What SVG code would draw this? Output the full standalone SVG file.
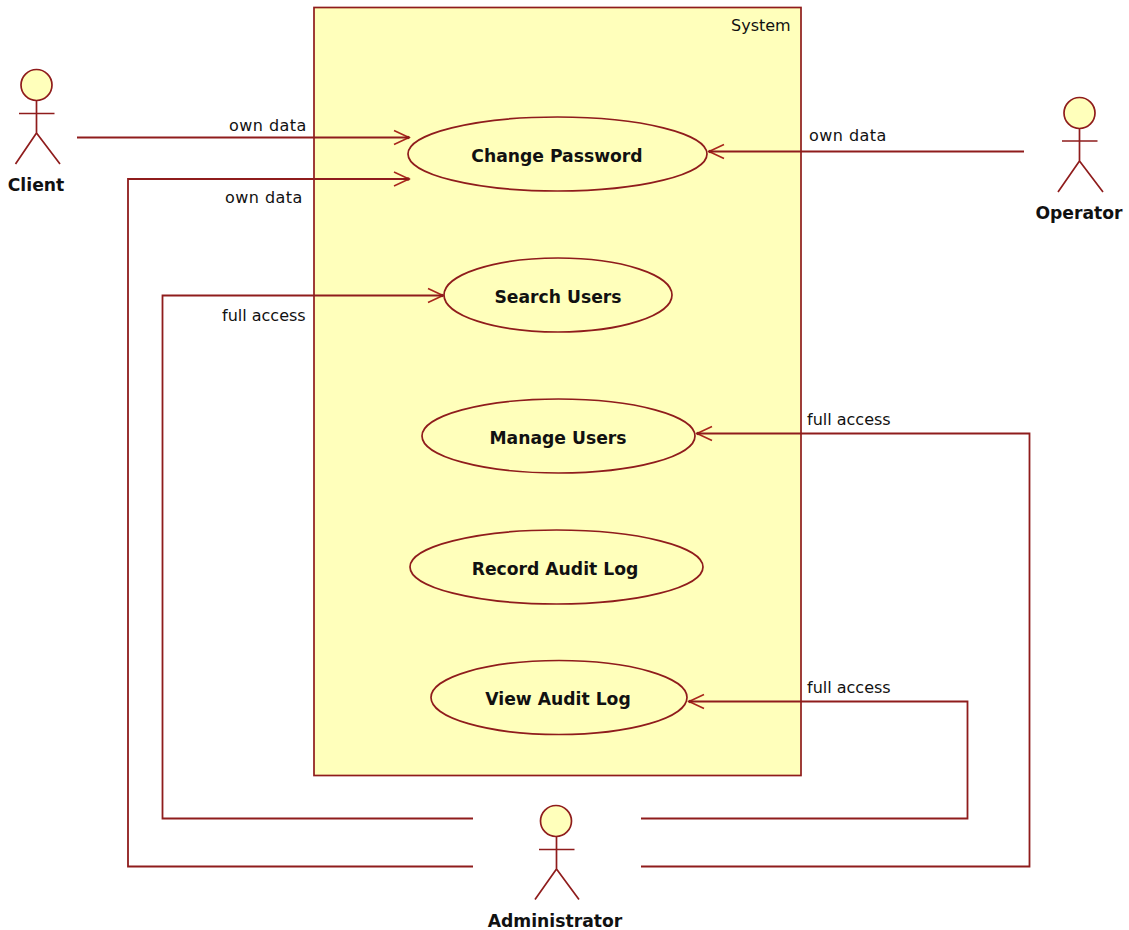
<svg xmlns="http://www.w3.org/2000/svg" width="1129" height="930" viewBox="0 0 1129 930">
<defs>
<marker id="open" markerUnits="userSpaceOnUse" markerWidth="20" markerHeight="20" refX="16" refY="10" orient="auto"><path d="M1 3L16 10L1 17" fill="none" stroke="#990000" stroke-opacity=".85" stroke-width="1.6"/><circle cx="15" cy="10" r="1.8" fill="#8f1c1c"/></marker>
</defs>
<style>
text{font-family:"DejaVu Sans","Liberation Sans",sans-serif;fill:#111}
.l{font-size:16px}
.o{letter-spacing:.45px}
.n{font-size:17.2px;font-weight:bold;text-anchor:middle}
.e{fill:#ffffbb;stroke:#8f1c1c;stroke-width:1.7}
.s{fill:none;stroke:#8f1c1c;stroke-width:1.7}
.c{fill:none;stroke:#8f1c1c;stroke-width:1.8}
</style>
<g id="system"><rect x="314" y="7.500" width="487" height="768" class="e"/><text class="l" x="731" y="31">System</text></g>
<g id="connectors">
<path class="c" marker-end="url(#open)" d="M77 137.500H409"/>
<path class="c" marker-end="url(#open)" d="M473 866.500H128V179H409"/>
<path class="c" marker-end="url(#open)" d="M473 818.500H162.500V295.500H443"/>
<path class="c" marker-end="url(#open)" d="M1024 151.500H709"/>
<path class="c" marker-end="url(#open)" d="M641 866.500H1029.500V433.500H697"/>
<path class="c" marker-end="url(#open)" d="M641 818.500H967.500V701.500H689"/>
</g>
<g id="labels">
<text class="l o" x="229" y="131">own data</text>
<text class="l o" x="225" y="203">own data</text>
<text class="l" x="222" y="321">full access</text>
<text class="l o" x="809" y="141">own data</text>
<text class="l" x="807" y="425">full access</text>
<text class="l" x="807" y="693">full access</text>
</g>
<g id="uc-change-password"><ellipse class="e" cx="557.500" cy="154" rx="149.500" ry="37"/><text class="n" x="557" y="162">Change Password</text></g>
<g id="uc-search-users"><ellipse class="e" cx="558" cy="295" rx="114" ry="37"/><text class="n" x="558" y="303">Search Users</text></g>
<g id="uc-manage-users"><ellipse class="e" cx="558.500" cy="436" rx="136.500" ry="37"/><text class="n" x="558" y="444">Manage Users</text></g>
<g id="uc-record-audit-log"><ellipse class="e" cx="556.500" cy="567" rx="146.500" ry="37"/><text class="n" x="555" y="575">Record Audit Log</text></g>
<g id="uc-view-audit-log"><ellipse class="e" cx="559" cy="697.500" rx="128" ry="37"/><text class="n" x="558" y="705">View Audit Log</text></g>
<g id="actor-client"><circle class="e" cx="36.500" cy="85" r="15.500"/><path class="s" d="M36.500 100.500V133M19 113.500H54.500M36.500 133L15.500 164M36.500 133L60 164"/><text class="n" x="36" y="191">Client</text></g>
<g id="actor-operator"><circle class="e" cx="1079.500" cy="113" r="15.500"/><path class="s" d="M1079.500 128.500V161M1062 141H1097.500M1079.500 161L1058 192M1079.500 161L1103 192"/><text class="n" x="1079" y="219">Operator</text></g>
<g id="actor-administrator"><circle class="e" cx="556" cy="821" r="15.500"/><path class="s" d="M556.500 836.500V869M539 849.500H574.500M556.500 869L535 899.500M556.500 869L579 899.500"/><text class="n" x="555" y="927">Administrator</text></g>
</svg>
